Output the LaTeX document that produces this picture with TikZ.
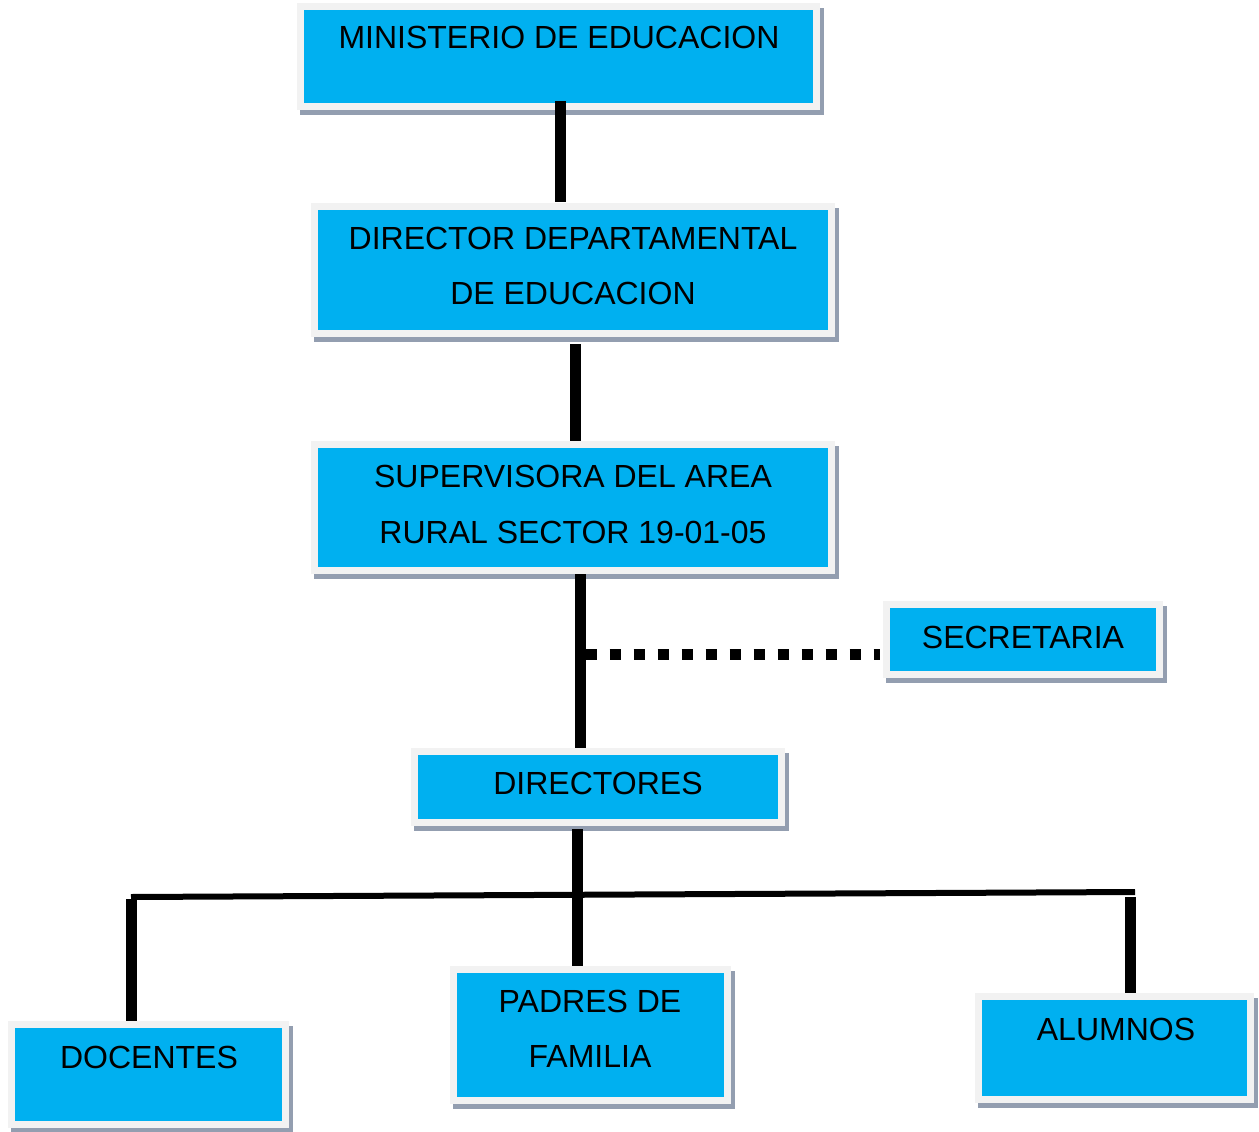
\documentclass[tikz,border=0pt]{standalone}
\usepackage{fontspec}
\setmainfont{Liberation Sans}
\usetikzlibrary{fit}
\definecolor{cyanc}{HTML}{00B0F0}
\definecolor{framec}{HTML}{F2F2F2}
\definecolor{shadowc}{HTML}{939EB0}
\tikzset{
  cyanbox/.style={fill=cyanc, inner sep=0pt, outer sep=0pt},
  lbl/.style={font=\fontsize{32}{38}\selectfont, inner sep=0pt, anchor=base},
  conn/.style={line width=11pt, draw=black},
  busline/.style={line width=6pt, draw=black},
  dotline/.style={line width=11pt, draw=black, dash pattern=on 11pt off 13pt},
}
% name, x1, y1, x2, y2 (outer frame, pixel coords)
\newcommand\orgbox[5]{%
  \fill[shadowc] (#2+3,#3+5) rectangle (#4+4,#5+5);
  \fill[framec] (#2,#3) rectangle (#4,#5);
  \node[cyanbox, fit={(#2+7,#3+7) (#4-7,#5-7)}] (#1) {};
}
\begin{document}
\begin{tikzpicture}[x=1pt, y=-1pt]
\useasboundingbox (0,0) rectangle (1259,1132);

\orgbox{min}{297}{3}{820}{110}
\orgbox{dir}{311}{203}{835}{337}
\orgbox{sup}{311}{441}{835}{574}
\orgbox{sec}{883}{601}{1163}{678}
\orgbox{dirs}{411}{748}{785}{826}
\orgbox{doc}{8}{1021}{289}{1128}
\orgbox{pad}{450}{966}{731}{1104}
\orgbox{alu}{975}{993}{1254}{1103}

\node[lbl] (minT) at (559,48.5) {MINISTERIO DE EDUCACION};
\node[lbl] (dirT1) at (573,249.5) {DIRECTOR DEPARTAMENTAL};
\node[lbl] (dirT2) at (573,304.5) {DE EDUCACION};
\node[lbl] (supT1) at (573,487.5) {SUPERVISORA DEL AREA};
\node[lbl] (supT2) at (573,543.5) {RURAL SECTOR 19-01-05};
\node[lbl] (secT) at (1023,648.5) {SECRETARIA};
\node[lbl] (dirsT) at (598,794.5) {DIRECTORES};
\node[lbl] (docT) at (149,1068.5) {DOCENTES};
\node[lbl] (padT1) at (590,1012.5) {PADRES DE};
\node[lbl] (padT2) at (590,1067.5) {FAMILIA};
\node[lbl] (aluT) at (1116,1040.5) {ALUMNOS};

% connectors
\draw[conn, shorten <=-2pt, shorten >=8pt] ([xshift=1.5pt]min.south) -- ([xshift=1.5pt]min.south |- dir.north);
\draw[conn, shorten <=14pt, shorten >=7pt] ([xshift=2.5pt]dir.south) -- ([xshift=2.5pt]dir.south |- sup.north);
\coordinate (mid) at ([xshift=7.5pt]sup.south |- 0,654);
\draw[conn, shorten <=7pt, shorten >=7pt] ([xshift=7.5pt]sup.south) -- ([xshift=7.5pt]sup.south |- dirs.north);
\draw[dotline, shorten <=5pt, shorten >=10pt] (mid) -- (mid -| sec.west);
\coordinate (busL) at (131,897);
\coordinate (busR) at (1135,892);
\draw[conn, shorten <=10pt, shorten >=7pt] ([xshift=-21pt]dirs.south) -- ([xshift=-21pt]dirs.south |- pad.north);
\draw[busline] (busL) -- (busR);
\draw[conn, shorten <=2pt, shorten >=7pt] (busL) -- (busL |- doc.north);
\draw[conn, shorten <=5pt, shorten >=7pt] ([xshift=-5pt]busR) -- ([xshift=-5pt]busR |- alu.north);
\end{tikzpicture}
\end{document}
